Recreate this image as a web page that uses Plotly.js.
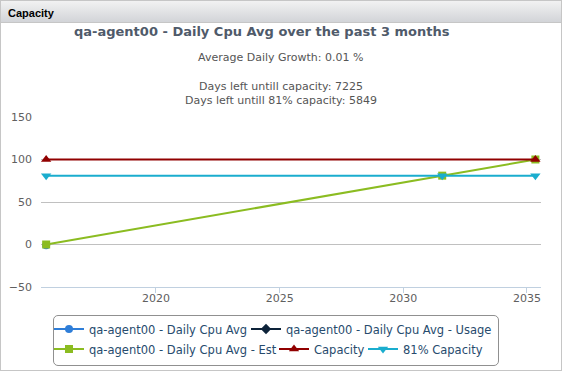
<!DOCTYPE html>
<html>
<head>
<meta charset="utf-8">
<script src="https://cdn.plot.ly/plotly-3.0.1.min.js"></script>
<style>
  html, body { margin: 0; padding: 0; background: #ffffff; }
  #frame { position: absolute; left: 0; top: 0; width: 560px; height: 369px; border: 1px solid #c6c6c6; background: #ffffff; }
  #header { position: absolute; left: 0; top: 0; width: 560px; height: 22px;
            background: linear-gradient(to bottom, #f2f2f2, #d2d4d8); border-bottom: 1px solid #c6c6c6;
            font-family: "Liberation Sans", Arial, sans-serif; font-weight: bold; font-size: 11px; color: #000;
            line-height: 24px; padding-left: 7px; box-sizing: border-box; }
  #legendbox { position: absolute; left: 53px; top: 315px; width: 444px; height: 49px; border: 1px solid #909090; border-radius: 5px; }
  #chart { position: absolute; left: 0; top: 0; width: 563px; height: 373px; }
</style>
</head>
<body>
<div id="frame"><div id="header">Capacity</div></div>
<div id="legendbox"></div>
<div id="chart"></div>
<script>
// ---- data ----
var seriesNames = [
  'qa-agent00 - Daily Cpu Avg',
  'qa-agent00 - Daily Cpu Avg - Usage',
  'qa-agent00 - Daily Cpu Avg - Est',
  'Capacity',
  '81% Capacity'
];
var avgDates = ['2015-07-24'];
var avgValues = [-1];
var usageDates = ['2015-07-24'];
var usageValues = [null];
var estDates = ['2015-07-24', '2031-07-29', '2035-05-05'];
var estValues = [0, 81, 100];
var capDates = ['2015-07-24', '2035-05-05'];
var capValues = [100, 100];
var cap81Dates = ['2015-07-24', '2031-07-29', '2035-05-05'];
var cap81Values = [81, 81, 81];
var xRange = ['2015-05-09', '2035-07-27'];
var yRange = [-50, 150];
var titleText = 'qa-agent00 - Daily Cpu Avg over the past 3 months';
var subtitleLines = ['Average Daily Growth: 0.01 %', 'Days left untill capacity: 7225', 'Days left untill 81% capacity: 5849'];

var colors = ['#2f7ed8', '#0d233a', '#8bbc21', '#910000', '#1aadce'];
var symbols = ['circle', 'diamond', 'square', 'triangle-up', 'triangle-down'];
var FONT = '"DejaVu Sans", Verdana, sans-serif';

var W = 563, H = 373;
var L = 41, R = 541, T = 117, B = 287;
function px2paperX(px) { return (px - L) / (R - L); }
function px2paperY(py) { return (B - py) / (B - T); }

function mk(i, xs, ys, legendId, size) {
  return {
    type: 'scatter', mode: 'lines+markers', name: seriesNames[i],
    x: xs, y: ys,
    line: { color: colors[i], width: 2 },
    marker: { color: colors[i], symbol: symbols[i], size: size },
    legend: legendId, showlegend: true, cliponaxis: false
  };
}

var traces = [
  mk(0, avgDates, avgValues, 'legend', 8),
  mk(1, usageDates, usageValues, 'legend2', 8),
  mk(2, estDates, estValues, 'legend3', 8),
  mk(3, capDates, capValues, 'legend4', 9),
  mk(4, cap81Dates, cap81Values, 'legend5', 9)
];

function leg(px, py) {
  return {
    xref: 'container', yref: 'container',
    x: px / W, y: 1 - py / H, xanchor: 'left', yanchor: 'middle',
    orientation: 'h', bgcolor: 'rgba(0,0,0,0)', borderwidth: 0,
    font: { family: FONT, size: 11.5, color: '#274b6d' }
  };
}

var annotations = [
  { text: titleText, x: px2paperX(261.5), y: px2paperY(31.5), xref: 'paper', yref: 'paper',
    xanchor: 'center', yanchor: 'middle', showarrow: false,
    font: { family: FONT, size: 13, color: '#4f5a6a', weight: 'bold' } },
  { text: subtitleLines[0], x: px2paperX(280.5), y: px2paperY(58), xref: 'paper', yref: 'paper',
    xanchor: 'center', yanchor: 'middle', showarrow: false,
    font: { family: FONT, size: 11, color: '#555555' } },
  { text: subtitleLines[1], x: px2paperX(281), y: px2paperY(86.5), xref: 'paper', yref: 'paper',
    xanchor: 'center', yanchor: 'middle', showarrow: false,
    font: { family: FONT, size: 11, color: '#555555' } },
  { text: subtitleLines[2], x: px2paperX(281), y: px2paperY(100.5), xref: 'paper', yref: 'paper',
    xanchor: 'center', yanchor: 'middle', showarrow: false,
    font: { family: FONT, size: 11, color: '#555555' } }
];

var layout = {
  width: W, height: H,
  margin: { l: L, r: W - R, t: T, b: H - B, pad: 0 },
  paper_bgcolor: 'rgba(0,0,0,0)', plot_bgcolor: 'rgba(0,0,0,0)',
  font: { family: FONT, size: 11, color: '#606060' },
  xaxis: {
    type: 'date', range: xRange, tick0: '2020-01-01', dtick: 'M60', tickformat: '%Y',
    showgrid: false, zeroline: false, showline: true, linecolor: '#c0d0e0', linewidth: 1,
    ticks: 'outside', ticklen: 5, tickcolor: '#c0d0e0', tickwidth: 1, ticklabelstandoff: -4,
    tickfont: { family: FONT, size: 11, color: '#606060' }, fixedrange: true
  },
  yaxis: {
    range: yRange, tick0: 0, dtick: 50, showgrid: true, gridcolor: '#c0c0c0', gridwidth: 1,
    zeroline: true, zerolinecolor: '#c0c0c0', zerolinewidth: 1, showline: false,
    ticks: '', ticklabelstandoff: 8,
    tickfont: { family: FONT, size: 11, color: '#606060' }, fixedrange: true
  },
  legend: leg(49, 329),
  legend2: leg(246, 329),
  legend3: leg(49, 349),
  legend4: leg(274, 349),
  legend5: leg(363, 349),
  annotations: annotations,
  showlegend: true
};

Plotly.newPlot('chart', traces, layout, { displayModeBar: false, staticPlot: true });
</script>
</body>
</html>
